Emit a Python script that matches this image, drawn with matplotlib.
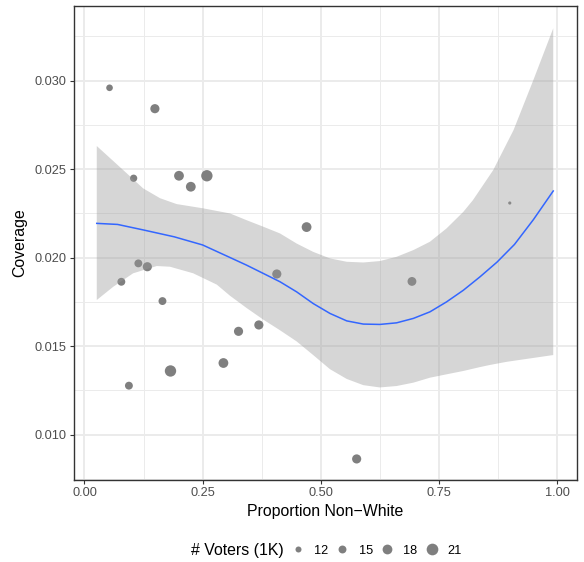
import numpy as np
import matplotlib
matplotlib.use('Agg')
import matplotlib.pyplot as plt
from matplotlib.lines import Line2D

plt.rcParams['font.family'] = ['Liberation Sans', 'DejaVu Sans']

# Points: proportion non-white, coverage, voters (thousands)
pct_nonwhite = [0.053, 0.149, 0.104, 0.200, 0.225, 0.259, 0.470, 0.114, 0.133, 0.078,
                0.165, 0.407, 0.369, 0.326, 0.294, 0.182, 0.094, 0.576, 0.693, 0.900]
coverage = [0.02960, 0.02842, 0.02449, 0.02463, 0.02401, 0.02463, 0.02173, 0.01968, 0.01949, 0.01864,
            0.01755, 0.01908, 0.01620, 0.01584, 0.01405, 0.01360, 0.01277, 0.00863, 0.01866, 0.02309]
voters_k = [13, 17, 14, 18, 18, 20.5, 18, 15, 17, 15,
            15, 17, 17, 17, 18, 20.5, 15, 17, 16.5, 7.5]

# loess fit line
fit_x = [0.026, 0.07, 0.126, 0.19, 0.25, 0.308, 0.343, 0.3785, 0.4138, 0.449,
         0.484, 0.5196, 0.555, 0.590, 0.625, 0.6605, 0.696, 0.731, 0.766, 0.8017,
         0.837, 0.873, 0.91, 0.95, 0.992]
fit_y = [0.02194, 0.02188, 0.02156, 0.02118, 0.02072, 0.02001, 0.01958, 0.01911, 0.01864, 0.01807,
         0.01741, 0.01685, 0.01643, 0.01625, 0.01623, 0.01632, 0.01657, 0.01694, 0.01750, 0.01816,
         0.01892, 0.01975, 0.02075, 0.02215, 0.02377]

# confidence band edges
upper_x = [0.026, 0.082, 0.124, 0.160, 0.195, 0.251, 0.308, 0.343, 0.3785, 0.4138,
           0.449, 0.484, 0.5196, 0.555, 0.590, 0.625, 0.6605, 0.696, 0.731, 0.766,
           0.8017, 0.822, 0.865, 0.908, 0.950, 0.992]
upper_y = [0.02631, 0.02495, 0.02392, 0.02336, 0.02303, 0.02279, 0.02250, 0.02212, 0.02175, 0.02137,
           0.02080, 0.02033, 0.01996, 0.01977, 0.01973, 0.01981, 0.02005, 0.02043, 0.02090, 0.02165,
           0.02259, 0.02325, 0.02495, 0.02721, 0.03004, 0.03296]
lower_x = [0.026, 0.061, 0.103, 0.153, 0.181, 0.230, 0.280, 0.308, 0.343, 0.3785,
           0.4138, 0.449, 0.484, 0.5196, 0.555, 0.590, 0.625, 0.6605, 0.696, 0.731,
           0.766, 0.8017, 0.837, 0.858, 0.894, 0.992]
lower_y = [0.01761, 0.01836, 0.01912, 0.01953, 0.01949, 0.01912, 0.01848, 0.01785, 0.01716, 0.01650,
           0.01590, 0.01527, 0.01450, 0.01370, 0.01315, 0.01280, 0.01267, 0.01275, 0.01294, 0.01322,
           0.01341, 0.01360, 0.01382, 0.01394, 0.01412, 0.01450]

legend_breaks = [12, 15, 18, 21]

DPI = 100
PX = DPI / 72.0


def voter_diam(v):
	# diameter in points
	return max(6 + (v - 12) * 0.63, 2.5) / PX


fig = plt.figure(figsize=(5.84, 5.62), dpi=DPI)
ax = fig.add_axes([74 / 584, 1 - 480 / 562, 503 / 584, 474.5 / 562])

ax.set_xlim(-0.0222, 1.0423)
ax.set_ylim(0.00744, 0.03425)

# grid (theme_bw)
for v in [0.125, 0.375, 0.625, 0.875]:
	ax.axvline(v, color='#ebebeb', lw=0.7, zorder=0)
for v in [0.0075, 0.0125, 0.0175, 0.0225, 0.0275, 0.0325]:
	ax.axhline(v, color='#ebebeb', lw=0.7, zorder=0)
for v in [0, 0.25, 0.5, 0.75, 1.0]:
	ax.axvline(v, color='#ebebeb', lw=1.4, zorder=0)
for v in [0.010, 0.015, 0.020, 0.025, 0.030]:
	ax.axhline(v, color='#ebebeb', lw=1.4, zorder=0)

sizes = [voter_diam(v) ** 2 for v in voters_k]
ax.scatter(pct_nonwhite, coverage, s=sizes, c='#7f7f7f', linewidths=0, zorder=2)

band_x = np.concatenate([upper_x, lower_x[::-1]])
band_y = np.concatenate([upper_y, lower_y[::-1]])
ax.fill(band_x, band_y, color='#999999', alpha=0.4, lw=0, zorder=3)
ax.plot(fit_x, fit_y, color='#3366FF', lw=1.1, zorder=4, solid_joinstyle='round')

ax.set_xticks([0, 0.25, 0.5, 0.75, 1.0])
ax.set_xticklabels(['0.00', '0.25', '0.50', '0.75', '1.00'])
ax.set_yticks([0.010, 0.015, 0.020, 0.025, 0.030])
ax.set_yticklabels(['0.010', '0.015', '0.020', '0.025', '0.030'])
ax.tick_params(length=2.9, width=0.8, color='#333333', labelcolor='#4d4d4d', labelsize=9.2, pad=2.5)

for sp in ax.spines.values():
	sp.set_color('#333333')
	sp.set_linewidth(1.0)

ax.set_xlabel('Proportion Non\u2212White', fontsize=11.4, color='black', labelpad=3)
ax.set_ylabel('Coverage', fontsize=11.4, color='black', labelpad=5)

# legend at bottom
fig.text(191 / 584, 1 - 550.5 / 562, '# Voters (1K)', fontsize=11.4, va='center', ha='left')
handles = [Line2D([], [], ls='', marker='o', color='#7f7f7f', markeredgewidth=0,
                  markersize=voter_diam(b)) for b in legend_breaks]
fig.legend(handles, [str(b) for b in legend_breaks], loc='center left',
           bbox_to_anchor=(291.3 / 584, 1 - 550.5 / 562), ncol=4, frameon=False,
           fontsize=9.2, handlelength=1.0, handletextpad=0.77, columnspacing=0.61,
           borderpad=0, borderaxespad=0)

fig.savefig('out.png', dpi=DPI)
